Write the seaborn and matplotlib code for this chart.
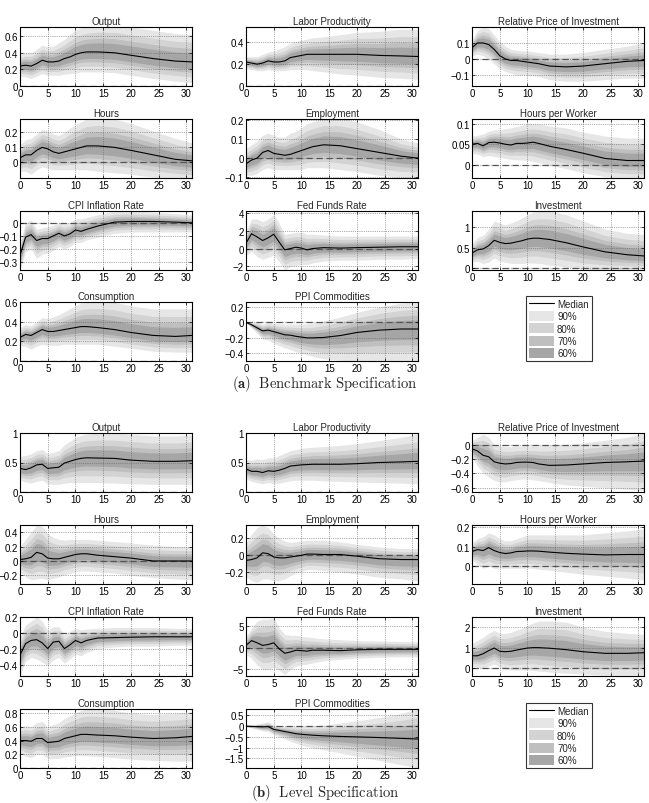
import matplotlib
matplotlib.use('Agg')
import matplotlib.pyplot as plt
from matplotlib.lines import Line2D
from matplotlib.patches import Patch
from matplotlib.ticker import FuncFormatter
import numpy as np
import seaborn as sns

HORIZON = [0, 1, 2, 3, 4, 5, 6, 7, 8, 9, 10, 11, 12, 14, 17, 20, 24, 28, 31]

# ---------------- (a) Benchmark Specification ----------------
A_OUTPUT_MED = [0.24, 0.25, 0.24, 0.27, 0.31, 0.29, 0.29, 0.30, 0.33, 0.35, 0.38, 0.40, 0.41, 0.41, 0.40, 0.37, 0.33, 0.30, 0.29]
A_OUTPUT_HI = [0.38, 0.40, 0.40, 0.44, 0.49, 0.47, 0.48, 0.52, 0.56, 0.62, 0.67, 0.70, 0.72, 0.74, 0.74, 0.71, 0.67, 0.63, 0.62]
A_OUTPUT_LO = [0.12, 0.11, 0.09, 0.12, 0.15, 0.13, 0.13, 0.13, 0.14, 0.15, 0.16, 0.17, 0.17, 0.17, 0.16, 0.13, 0.09, 0.06, 0.04]

A_HOURS_MED = [0.03, 0.05, 0.05, 0.08, 0.10, 0.09, 0.07, 0.06, 0.07, 0.08, 0.09, 0.10, 0.11, 0.11, 0.10, 0.08, 0.05, 0.02, 0.01]
A_HOURS_HI = [0.12, 0.15, 0.16, 0.19, 0.22, 0.21, 0.19, 0.18, 0.20, 0.23, 0.25, 0.27, 0.29, 0.30, 0.29, 0.26, 0.21, 0.16, 0.13]
A_HOURS_LO = [-0.06, -0.06, -0.08, -0.05, -0.03, -0.04, -0.05, -0.05, -0.05, -0.05, -0.05, -0.05, -0.05, -0.06, -0.07, -0.08, -0.10, -0.11, -0.12]

A_CPI_MED = [-0.25, -0.11, -0.09, -0.135, -0.12, -0.12, -0.10, -0.08, -0.10, -0.085, -0.055, -0.065, -0.05, -0.025, 0.005, 0.01, 0.01, 0.005, 0.0]
A_CPI_HI = [-0.15, 0.0, 0.02, -0.05, -0.04, -0.03, -0.02, 0.0, -0.01, 0.0, 0.03, 0.03, 0.04, 0.06, 0.09, 0.09, 0.08, 0.07, 0.06]
A_CPI_LO = [-0.36, -0.22, -0.20, -0.27, -0.24, -0.23, -0.21, -0.18, -0.20, -0.18, -0.15, -0.15, -0.13, -0.11, -0.08, -0.07, -0.07, -0.07, -0.07]

A_CONS_MED = [0.24, 0.27, 0.26, 0.29, 0.32, 0.30, 0.30, 0.31, 0.32, 0.33, 0.34, 0.35, 0.35, 0.34, 0.32, 0.29, 0.26, 0.25, 0.26]
A_CONS_HI = [0.34, 0.37, 0.36, 0.40, 0.44, 0.43, 0.45, 0.47, 0.50, 0.53, 0.56, 0.59, 0.60, 0.61, 0.60, 0.56, 0.53, 0.53, 0.53]
A_CONS_LO = [0.16, 0.15, 0.12, 0.15, 0.17, 0.16, 0.16, 0.16, 0.17, 0.17, 0.17, 0.17, 0.17, 0.17, 0.15, 0.13, 0.10, 0.09, 0.09]

A_LP_MED = [0.22, 0.21, 0.20, 0.21, 0.23, 0.22, 0.22, 0.23, 0.26, 0.27, 0.28, 0.29, 0.29, 0.29, 0.29, 0.29, 0.28, 0.275, 0.27]
A_LP_HI = [0.27, 0.27, 0.27, 0.29, 0.31, 0.32, 0.34, 0.36, 0.39, 0.41, 0.42, 0.43, 0.44, 0.45, 0.47, 0.49, 0.50, 0.52, 0.52]
A_LP_LO = [0.16, 0.15, 0.14, 0.14, 0.15, 0.14, 0.14, 0.14, 0.15, 0.15, 0.15, 0.15, 0.14, 0.13, 0.11, 0.10, 0.08, 0.07, 0.06]

A_EMP_MED = [-0.03, -0.01, 0.0, 0.03, 0.04, 0.025, 0.02, 0.015, 0.02, 0.03, 0.04, 0.05, 0.06, 0.07, 0.065, 0.05, 0.03, 0.01, 0.0]
A_EMP_HI = [0.05, 0.07, 0.09, 0.12, 0.13, 0.12, 0.11, 0.11, 0.13, 0.14, 0.16, 0.18, 0.19, 0.21, 0.21, 0.19, 0.15, 0.10, 0.08]
A_EMP_LO = [-0.09, -0.09, -0.08, -0.06, -0.05, -0.06, -0.06, -0.06, -0.06, -0.06, -0.06, -0.05, -0.05, -0.05, -0.06, -0.07, -0.09, -0.10, -0.10]

A_FFR_MED = [0.6, 1.65, 1.3, 0.9, 1.2, 1.6, 0.7, -0.15, 0.0, 0.15, 0.05, -0.15, 0.0, 0.1, 0.05, 0.1, 0.15, 0.2, 0.2]
A_FFR_HI = [2.0, 3.3, 3.3, 3.0, 3.3, 3.8, 2.8, 1.6, 1.7, 1.8, 1.8, 1.6, 1.6, 1.5, 1.4, 1.4, 1.4, 1.4, 1.4]
A_FFR_LO = [-0.8, -0.3, -0.9, -1.2, -1.0, -0.7, -1.5, -2.4, -2.0, -1.9, -1.8, -1.8, -1.6, -1.4, -1.3, -1.3, -1.2, -1.2, -1.1]

A_PPI_MED = [0.0, -0.03, -0.07, -0.11, -0.10, -0.12, -0.14, -0.16, -0.165, -0.18, -0.19, -0.2, -0.2, -0.195, -0.17, -0.13, -0.10, -0.085, -0.085]
A_PPI_HI = [0.0, 0.0, 0.0, -0.02, 0.0, -0.01, -0.02, -0.02, -0.02, -0.02, -0.02, -0.02, -0.01, 0.02, 0.07, 0.13, 0.20, 0.25, 0.27]
A_PPI_LO = [0.0, -0.07, -0.14, -0.22, -0.23, -0.27, -0.30, -0.33, -0.35, -0.38, -0.40, -0.42, -0.44, -0.47, -0.49, -0.50, -0.50, -0.50, -0.50]

A_RPI_MED = [0.07, 0.1, 0.1, 0.09, 0.06, 0.02, 0.0, -0.01, -0.01, -0.015, -0.02, -0.025, -0.03, -0.045, -0.05, -0.045, -0.03, -0.015, -0.01]
A_RPI_HI = [0.12, 0.18, 0.20, 0.19, 0.15, 0.11, 0.08, 0.06, 0.055, 0.05, 0.05, 0.045, 0.04, 0.03, 0.03, 0.04, 0.06, 0.08, 0.10]
A_RPI_LO = [0.02, 0.03, 0.02, 0.0, -0.03, -0.06, -0.08, -0.09, -0.10, -0.10, -0.10, -0.105, -0.11, -0.13, -0.14, -0.14, -0.13, -0.12, -0.12]

A_HPW_MED = [0.05, 0.052, 0.046, 0.054, 0.055, 0.053, 0.05, 0.048, 0.052, 0.052, 0.053, 0.055, 0.052, 0.045, 0.037, 0.028, 0.015, 0.01, 0.01]
A_HPW_HI = [0.07, 0.072, 0.075, 0.082, 0.085, 0.086, 0.088, 0.09, 0.093, 0.096, 0.1, 0.1, 0.1, 0.095, 0.09, 0.08, 0.07, 0.065, 0.065]
A_HPW_LO = [0.028, 0.025, 0.02, 0.022, 0.02, 0.018, 0.015, 0.013, 0.012, 0.011, 0.01, 0.008, 0.005, -0.002, -0.01, -0.02, -0.03, -0.035, -0.035]

A_INV_MED = [0.37, 0.45, 0.47, 0.55, 0.68, 0.63, 0.60, 0.61, 0.64, 0.67, 0.71, 0.73, 0.73, 0.70, 0.62, 0.52, 0.40, 0.33, 0.30]
A_INV_HI = [0.6, 0.75, 0.8, 0.95, 1.15, 1.1, 1.05, 1.1, 1.15, 1.22, 1.3, 1.36, 1.39, 1.39, 1.3, 1.15, 0.95, 0.85, 0.82]
A_INV_LO = [0.15, 0.17, 0.12, 0.15, 0.25, 0.18, 0.15, 0.12, 0.12, 0.12, 0.13, 0.13, 0.12, 0.08, 0.03, -0.02, -0.04, -0.04, -0.04]

# ---------------- (b) Level Specification ----------------
B_OUTPUT_MED = [0.40, 0.38, 0.41, 0.46, 0.47, 0.40, 0.41, 0.42, 0.49, 0.52, 0.55, 0.57, 0.58, 0.575, 0.57, 0.54, 0.52, 0.52, 0.53]
B_OUTPUT_HI = [0.6, 0.62, 0.65, 0.7, 0.72, 0.65, 0.67, 0.7, 0.8, 0.86, 0.92, 0.96, 0.98, 1.0, 1.0, 0.98, 0.95, 0.95, 0.97]
B_OUTPUT_LO = [0.2, 0.17, 0.15, 0.18, 0.2, 0.14, 0.13, 0.13, 0.15, 0.16, 0.16, 0.16, 0.16, 0.16, 0.15, 0.14, 0.13, 0.13, 0.13]

B_HOURS_MED = [0.02, 0.03, 0.05, 0.12, 0.10, 0.04, 0.03, 0.03, 0.05, 0.07, 0.09, 0.10, 0.10, 0.08, 0.06, 0.04, 0.0, 0.0, 0.0]
B_HOURS_HI = [0.2, 0.3, 0.4, 0.5, 0.48, 0.38, 0.33, 0.3, 0.29, 0.3, 0.3, 0.3, 0.3, 0.29, 0.27, 0.25, 0.22, 0.2, 0.2]
B_HOURS_LO = [-0.15, -0.22, -0.26, -0.25, -0.24, -0.26, -0.24, -0.22, -0.19, -0.17, -0.15, -0.14, -0.14, -0.15, -0.17, -0.2, -0.23, -0.25, -0.26]

B_CPI_MED = [-0.27, -0.13, -0.09, -0.08, -0.12, -0.19, -0.11, -0.10, -0.19, -0.145, -0.09, -0.12, -0.09, -0.06, -0.055, -0.05, -0.045, -0.045, -0.045]
B_CPI_HI = [-0.05, 0.1, 0.15, 0.2, 0.15, 0.03, 0.08, 0.08, -0.02, 0.02, 0.06, 0.04, 0.05, 0.06, 0.07, 0.07, 0.07, 0.06, 0.06]
B_CPI_LO = [-0.53, -0.35, -0.3, -0.32, -0.36, -0.4, -0.33, -0.3, -0.37, -0.32, -0.26, -0.28, -0.24, -0.19, -0.17, -0.16, -0.16, -0.15, -0.15]

B_CONS_MED = [0.40, 0.40, 0.39, 0.43, 0.43, 0.37, 0.38, 0.39, 0.43, 0.45, 0.47, 0.49, 0.49, 0.48, 0.47, 0.45, 0.43, 0.44, 0.46]
B_CONS_HI = [0.6, 0.62, 0.6, 0.66, 0.68, 0.6, 0.63, 0.66, 0.72, 0.76, 0.8, 0.84, 0.86, 0.86, 0.84, 0.8, 0.78, 0.8, 0.82]
B_CONS_LO = [0.22, 0.17, 0.15, 0.2, 0.2, 0.14, 0.14, 0.14, 0.16, 0.17, 0.18, 0.18, 0.18, 0.17, 0.15, 0.13, 0.11, 0.1, 0.1]

B_LP_MED = [0.39, 0.35, 0.35, 0.33, 0.36, 0.35, 0.37, 0.40, 0.44, 0.45, 0.46, 0.465, 0.47, 0.47, 0.47, 0.48, 0.5, 0.51, 0.52]
B_LP_HI = [0.55, 0.54, 0.56, 0.55, 0.58, 0.58, 0.62, 0.66, 0.7, 0.72, 0.74, 0.75, 0.76, 0.77, 0.79, 0.82, 0.87, 0.93, 0.98]
B_LP_LO = [0.22, 0.18, 0.16, 0.14, 0.16, 0.14, 0.15, 0.17, 0.19, 0.2, 0.2, 0.2, 0.2, 0.19, 0.18, 0.17, 0.16, 0.15, 0.14]

B_EMP_MED = [-0.06, -0.05, -0.03, 0.03, 0.02, -0.02, -0.03, -0.03, -0.02, -0.01, 0.0, 0.015, 0.015, 0.01, 0.01, -0.01, -0.04, -0.05, -0.05]
B_EMP_HI = [0.15, 0.25, 0.33, 0.36, 0.33, 0.25, 0.2, 0.17, 0.15, 0.16, 0.17, 0.18, 0.18, 0.18, 0.16, 0.13, 0.1, 0.08, 0.08]
B_EMP_LO = [-0.25, -0.3, -0.32, -0.28, -0.28, -0.3, -0.3, -0.28, -0.24, -0.21, -0.19, -0.17, -0.17, -0.18, -0.2, -0.22, -0.26, -0.28, -0.3]

B_FFR_MED = [0.5, 1.6, 1.1, 0.5, 0.7, 1.1, -0.3, -1.3, -1.0, -0.6, -0.7, -0.8, -0.6, -0.6, -0.7, -0.5, -0.4, -0.4, -0.4]
B_FFR_HI = [2.5, 4.5, 6.0, 6.5, 6.5, 6.8, 4.5, 3.0, 2.8, 2.8, 2.6, 2.4, 2.3, 2.0, 1.8, 1.6, 1.5, 1.4, 1.3]
B_FFR_LO = [-1.5, -2.5, -4.0, -5.0, -5.0, -4.5, -5.2, -6.2, -5.0, -4.2, -4.0, -3.8, -3.5, -3.0, -2.7, -2.4, -2.2, -2.1, -2.1]

B_PPI_MED = [0.0, -0.01, -0.02, -0.03, -0.02, -0.15, -0.2, -0.25, -0.3, -0.35, -0.38, -0.4, -0.42, -0.45, -0.48, -0.5, -0.53, -0.57, -0.6]
B_PPI_HI = [0.0, 0.05, 0.1, 0.15, 0.2, 0.05, 0.02, 0.0, 0.0, 0.0, 0.0, 0.0, 0.01, 0.05, 0.15, 0.25, 0.4, 0.6, 0.8]
B_PPI_LO = [0.0, -0.08, -0.15, -0.22, -0.25, -0.4, -0.5, -0.6, -0.7, -0.8, -0.88, -0.95, -1.0, -1.1, -1.25, -1.4, -1.6, -1.8, -1.95]

B_RPI_MED = [-0.06, -0.09, -0.15, -0.17, -0.24, -0.26, -0.27, -0.265, -0.25, -0.245, -0.245, -0.25, -0.27, -0.29, -0.285, -0.27, -0.25, -0.24, -0.23]
B_RPI_HI = [0.05, 0.1, 0.14, 0.1, 0.0, -0.02, -0.03, -0.03, -0.02, -0.02, -0.02, -0.02, -0.02, -0.01, 0.0, 0.02, 0.06, 0.1, 0.16]
B_RPI_LO = [-0.18, -0.3, -0.4, -0.45, -0.5, -0.52, -0.52, -0.5, -0.49, -0.48, -0.48, -0.49, -0.5, -0.53, -0.56, -0.58, -0.6, -0.62, -0.64]

B_HPW_MED = [0.075, 0.085, 0.08, 0.095, 0.08, 0.07, 0.065, 0.068, 0.075, 0.076, 0.078, 0.078, 0.077, 0.072, 0.066, 0.062, 0.058, 0.06, 0.06]
B_HPW_HI = [0.12, 0.14, 0.15, 0.17, 0.16, 0.14, 0.13, 0.13, 0.14, 0.15, 0.16, 0.16, 0.16, 0.16, 0.16, 0.16, 0.17, 0.18, 0.19]
B_HPW_LO = [0.03, 0.01, -0.01, 0.0, -0.01, -0.01, -0.01, -0.01, -0.01, -0.01, -0.01, -0.01, -0.015, -0.02, -0.03, -0.04, -0.05, -0.06, -0.07]

B_INV_MED = [0.6, 0.6, 0.7, 0.85, 0.98, 0.82, 0.8, 0.82, 0.88, 0.93, 0.98, 1.0, 1.0, 0.97, 0.9, 0.8, 0.72, 0.72, 0.75]
B_INV_HI = [1.2, 1.35, 1.5, 1.7, 1.85, 1.7, 1.7, 1.75, 1.85, 1.95, 2.1, 2.2, 2.3, 2.3, 2.25, 2.0, 1.8, 1.7, 1.65]
B_INV_LO = [0.1, 0.05, 0.0, 0.1, 0.2, 0.05, -0.05, -0.1, -0.1, -0.1, -0.1, -0.1, -0.15, -0.2, -0.25, -0.3, -0.35, -0.35, -0.35]

# credible bands, widest first; relative width of each band vs the 90% band
BAND_LABELS = ['90%', '80%', '70%', '60%']
BAND_SCALE = [1.0, 0.72, 0.5, 0.33]
BAND_COLORS = ['#e6e6e6', '#d3d3d3', '#bfbfbf', '#a6a6a6']

# (spec, row, col, title, median, lo90, hi90, ylim, yticks)
panels = [
    ('a', 0, 0, 'Output', A_OUTPUT_MED, A_OUTPUT_LO, A_OUTPUT_HI, (0, 0.71), [0, 0.2, 0.4, 0.6]),
    ('a', 1, 0, 'Hours', A_HOURS_MED, A_HOURS_LO, A_HOURS_HI, (-0.105, 0.29), [0, 0.1, 0.2]),
    ('a', 2, 0, 'CPI Inflation Rate', A_CPI_MED, A_CPI_LO, A_CPI_HI, (-0.36, 0.09), [-0.3, -0.2, -0.1, 0]),
    ('a', 3, 0, 'Consumption', A_CONS_MED, A_CONS_LO, A_CONS_HI, (0, 0.6), [0, 0.2, 0.4, 0.6]),
    ('a', 0, 1, 'Labor Productivity', A_LP_MED, A_LP_LO, A_LP_HI, (0, 0.54), [0, 0.2, 0.4]),
    ('a', 1, 1, 'Employment', A_EMP_MED, A_EMP_LO, A_EMP_HI, (-0.104, 0.205), [-0.1, 0, 0.1, 0.2]),
    ('a', 2, 1, 'Fed Funds Rate', A_FFR_MED, A_FFR_LO, A_FFR_HI, (-2.4, 4.2), [-2, 0, 2, 4]),
    ('a', 3, 1, 'PPI Commodities', A_PPI_MED, A_PPI_LO, A_PPI_HI, (-0.5, 0.265), [-0.4, -0.2, 0, 0.2]),
    ('a', 0, 2, 'Relative Price of Investment', A_RPI_MED, A_RPI_LO, A_RPI_HI, (-0.17, 0.2), [-0.1, 0, 0.1]),
    ('a', 1, 2, 'Hours per Worker', A_HPW_MED, A_HPW_LO, A_HPW_HI, (-0.033, 0.112), [0, 0.05, 0.1]),
    ('a', 2, 2, 'Investment', A_INV_MED, A_INV_LO, A_INV_HI, (-0.04, 1.39), [0, 0.5, 1]),
    ('b', 0, 0, 'Output', B_OUTPUT_MED, B_OUTPUT_LO, B_OUTPUT_HI, (0, 1), [0, 0.5, 1]),
    ('b', 1, 0, 'Hours', B_HOURS_MED, B_HOURS_LO, B_HOURS_HI, (-0.32, 0.5), [-0.2, 0, 0.2, 0.4]),
    ('b', 2, 0, 'CPI Inflation Rate', B_CPI_MED, B_CPI_LO, B_CPI_HI, (-0.53, 0.2), [-0.4, -0.2, 0, 0.2]),
    ('b', 3, 0, 'Consumption', B_CONS_MED, B_CONS_LO, B_CONS_HI, (0, 0.86), [0, 0.2, 0.4, 0.6, 0.8]),
    ('b', 0, 1, 'Labor Productivity', B_LP_MED, B_LP_LO, B_LP_HI, (0, 1), [0, 0.5, 1]),
    ('b', 1, 1, 'Employment', B_EMP_MED, B_EMP_LO, B_EMP_HI, (-0.34, 0.36), [-0.2, 0, 0.2]),
    ('b', 2, 1, 'Fed Funds Rate', B_FFR_MED, B_FFR_LO, B_FFR_HI, (-6.5, 7), [-5, 0, 5]),
    ('b', 3, 1, 'PPI Commodities', B_PPI_MED, B_PPI_LO, B_PPI_HI, (-1.95, 0.8), [-1.5, -1, -0.5, 0, 0.5]),
    ('b', 0, 2, 'Relative Price of Investment', B_RPI_MED, B_RPI_LO, B_RPI_HI, (-0.66, 0.16), [-0.6, -0.4, -0.2, 0]),
    ('b', 1, 2, 'Hours per Worker', B_HPW_MED, B_HPW_LO, B_HPW_HI, (-0.09, 0.21), [0, 0.1, 0.2]),
    ('b', 2, 2, 'Investment', B_INV_MED, B_INV_LO, B_INV_HI, (-0.39, 2.5), [0, 1, 2]),
]

sns.set_style('ticks')
plt.rcParams['font.family'] = ['Liberation Sans', 'DejaVu Sans']
plt.rcParams['mathtext.fontset'] = 'cm'
plt.rcParams['axes.unicode_minus'] = True

W, H = 649, 804
fig = plt.figure(figsize=(W / 100, H / 100), dpi=100)

COL_LEFT = [20, 246, 472]
ROW_TOP = {'a': [28, 120, 212, 303], 'b': [434, 526, 618, 710]}
AX_W, AX_H = 172, 59

fmt = FuncFormatter(lambda v, p: ('%g' % v).replace('-', '\u2212'))

for spec, row, col, title, med, lo, hi, ylim, yticks in panels:
    left = COL_LEFT[col] / W
    bottom = 1 - (ROW_TOP[spec][row] + AX_H) / H
    ax = fig.add_axes([left, bottom, AX_W / W, AX_H / H])

    m = np.array(med)
    lo = np.array(lo)
    hi = np.array(hi)
    for s, c in zip(BAND_SCALE, BAND_COLORS):
        ax.fill_between(HORIZON, m - s * (m - lo), m + s * (hi - m), color=c, lw=0, zorder=1)

    ax.axhline(0, color='#505050', lw=0.9, ls=(0, (5, 3)), zorder=2)
    sns.lineplot(x=HORIZON, y=med, ax=ax, color='black', lw=0.8, zorder=3)

    ax.set_xlim(0, 31)
    ax.set_ylim(*ylim)
    ax.set_xticks([0, 5, 10, 15, 20, 25, 30])
    ax.set_yticks(yticks)
    ax.xaxis.set_major_formatter(fmt)
    ax.yaxis.set_major_formatter(fmt)
    ax.grid(True, color='#606060', ls=':', lw=0.5)
    ax.set_axisbelow(False)
    ax.tick_params(direction='in', length=2, width=0.5, labelsize=7, pad=1.5,
                   top=True, right=True, colors='black')
    for sp in ax.spines.values():
        sp.set_linewidth(0.8)
        sp.set_color('black')
        sp.set_zorder(4)
    ax.set_title(title, fontsize=7, pad=2.5)

# legends
handles = [Line2D([0], [0], color='black', lw=0.8)] + [Patch(facecolor=c, edgecolor='none') for c in BAND_COLORS]
labels = ['Median'] + BAND_LABELS
for top_px in [297, 704]:
    leg = fig.legend(handles, labels, loc='upper left',
                     bbox_to_anchor=(526 / W, 1 - top_px / H),
                     fontsize=7, frameon=True, fancybox=False, edgecolor='black',
                     handlelength=2.6, handleheight=1.2, labelspacing=0.2,
                     borderpad=0.3, handletextpad=0.3, borderaxespad=0)
    leg.get_frame().set_linewidth(0.8)

fig.text(325 / W, 1 - 384 / H, r'$\mathbf{(a)}\ \ \mathrm{Benchmark\ Specification}$',
         ha='center', va='center', fontsize=10.5)
fig.text(325 / W, 1 - 793 / H, r'$\mathbf{(b)}\ \ \mathrm{Level\ Specification}$',
         ha='center', va='center', fontsize=10.5)

fig.savefig('out.png', dpi=100)
